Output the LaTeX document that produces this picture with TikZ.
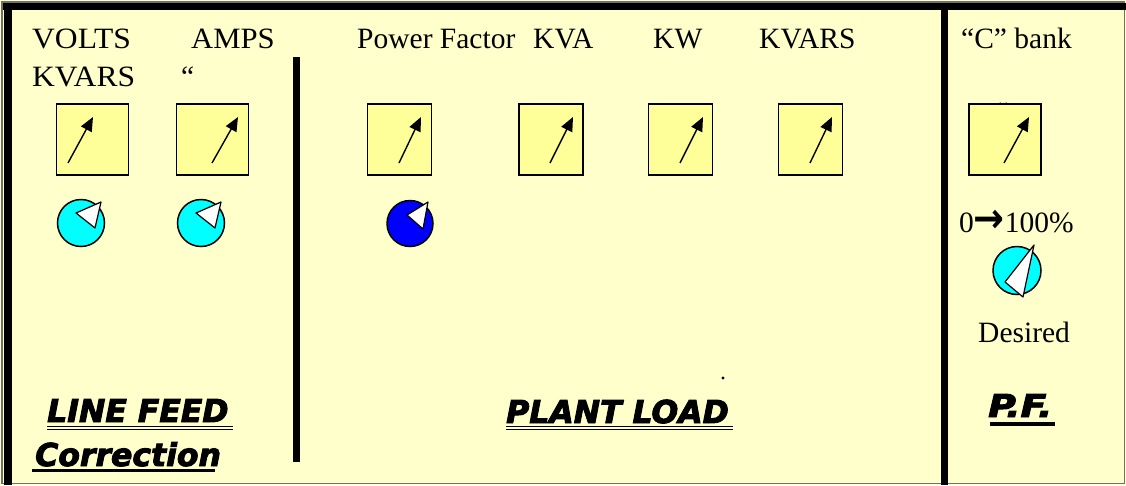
\documentclass[tikz,border=0pt]{standalone}
\usepackage{fontspec}
\setmainfont{Liberation Serif}
\newfontfamily\heavyfont{DejaVu Sans}[BoldItalicFeatures={FakeBold=3}]
\newfontfamily\arrowfont{DejaVu Sans}
\usetikzlibrary{arrows.meta}
\definecolor{panelbg}{HTML}{FFFFCC}
\definecolor{meterbg}{HTML}{FFFF99}
\definecolor{knobcyan}{HTML}{00FFFF}
\definecolor{knobblue}{HTML}{0000FF}
\definecolor{edgegray}{HTML}{707070}
\begin{document}
\begin{tikzpicture}[x=1pt,y=-1pt,
  lbl/.style={anchor=base west, inner sep=0pt, font=\fontsize{29.5}{35}\selectfont},
  hlbl/.style={anchor=base west, inner sep=0pt, font=\heavyfont\bfseries\itshape\fontsize{31.5}{36}\selectfont},
  meter/.style={draw=black, line width=1.5pt, fill=meterbg, minimum height=71pt, inner sep=0pt},
  needle/.style={line width=1.4pt, -{Triangle[length=14pt,width=12pt]}},
  knob/.style={circle, draw=black, line width=1.5pt, inner sep=0pt},
  pointer/.style={fill=white, draw=black, line width=1.2pt, line join=round},
  divider/.style={line width=7pt},
  uline/.style={line width=1pt},
  thickuline/.style={line width=3.5pt}]
\useasboundingbox (0,0) rectangle (1126,485);
% background and frame
\fill[panelbg] (0,0) rectangle (1126,485);
\draw[edgegray, line width=1.5pt] (2,2) rectangle (1124.5,483.5);
\draw[line width=7pt] (3,6.5) -- (1126,6.5);
\draw[line width=8pt] (8,3) -- (8,485);
\draw[divider] (296.5,57) -- (296.5,462);
\draw[divider] (944.5,6) -- (944.5,485);

% hidden ditto mark behind C bank meter
\node[lbl] (dittoc) at (995,122.5) {“};

% top labels
\node[lbl] (volts) at (32,48) {\scalebox{1.07}[1]{VOLTS}};
\node[lbl] (kvars1) at (32,86) {\scalebox{1.07}[1]{KVARS}};
\node[lbl] (amps) at (191,48) {\scalebox{1.04}[1]{AMPS}};
\node[lbl] (ditto) at (181,86) {“};
\node[lbl] (pf) at (357,48) {Power Factor};
\node[lbl] (kva) at (533,48) {KVA};
\node[lbl] (kw) at (653,48) {KW};
\node[lbl] (kvars2) at (759,48) {KVARS};
\node[lbl] (cbank) at (961,48) {“C” bank};
\node[lbl] (range) at (959,232) {0{\arrowfont\bfseries\scalebox{1.25}[1.4]{→}}100\%};
\node[lbl] (desired) at (978,342) {Desired};

% meters
\node[meter, minimum width=72pt] (m1) at (92.5,139.5) {};
\node[meter, minimum width=72pt] (m2) at (212.5,139.5) {};
\node[meter, minimum width=64pt] (mpf) at (399.5,139.5) {};
\node[meter, minimum width=64pt] (mkva) at (551,139.5) {};
\node[meter, minimum width=64pt] (mkw) at (680.5,139.5) {};
\node[meter, minimum width=64pt] (mkvar) at (810.5,139.5) {};
\node[meter, minimum width=72pt] (mc) at (1005,139.5) {};
\draw[needle] (68,163) -- (93,117);
\draw[needle] (212,163) -- (238,117);
\draw[needle] (399,163) -- (421,117);
\draw[needle] (550,163) -- (573,117);
\draw[needle] (680,163) -- (703,117);
\draw[needle] (810,163) -- (832,117);
\draw[needle] (1004,163) -- (1029,117);

% knobs
\node[knob, fill=knobcyan, minimum size=47pt] (k1) at (81,223) {};
\draw[pointer] (76,213) -- (101,202) -- (95,228) -- cycle;
\node[knob, fill=knobcyan, minimum size=47pt] (k2) at (201,223) {};
\draw[pointer] (196,213) -- (221,202) -- (215,228) -- cycle;
\node[knob, fill=knobblue, minimum size=46pt] (kpf) at (410,223.5) {};
\draw[pointer] (407,215) -- (428,202) -- (423,229) -- cycle;
\node[knob, fill=knobcyan, minimum size=48pt] (kd) at (1017,270.5) {};
\draw[pointer] (1005,282) -- (1034,245) -- (1023,297) -- cycle;

% stray dot
\fill (723,378) circle (1.6pt);

% heavy labels
\node[hlbl] (linefeed) at (47,422) {LINE FEED};
\draw[uline] (47,426) -- (233,426);
\draw[uline] (47,429) -- (233,429);
\node[hlbl] (correction) at (35,466) {Correction};
\draw[thickuline] (32,470.5) -- (215,470.5);
\node[hlbl] (plantload) at (506,423) {PLANT LOAD};
\draw[uline] (506,426) -- (733,426);
\draw[uline] (506,429) -- (733,429);
\node[hlbl] (pfl) at (988,417) {\scalebox{1.2}[1]{P.F.}};
\draw[thickuline] (990,424) -- (1055,424);
\end{tikzpicture}
\end{document}
